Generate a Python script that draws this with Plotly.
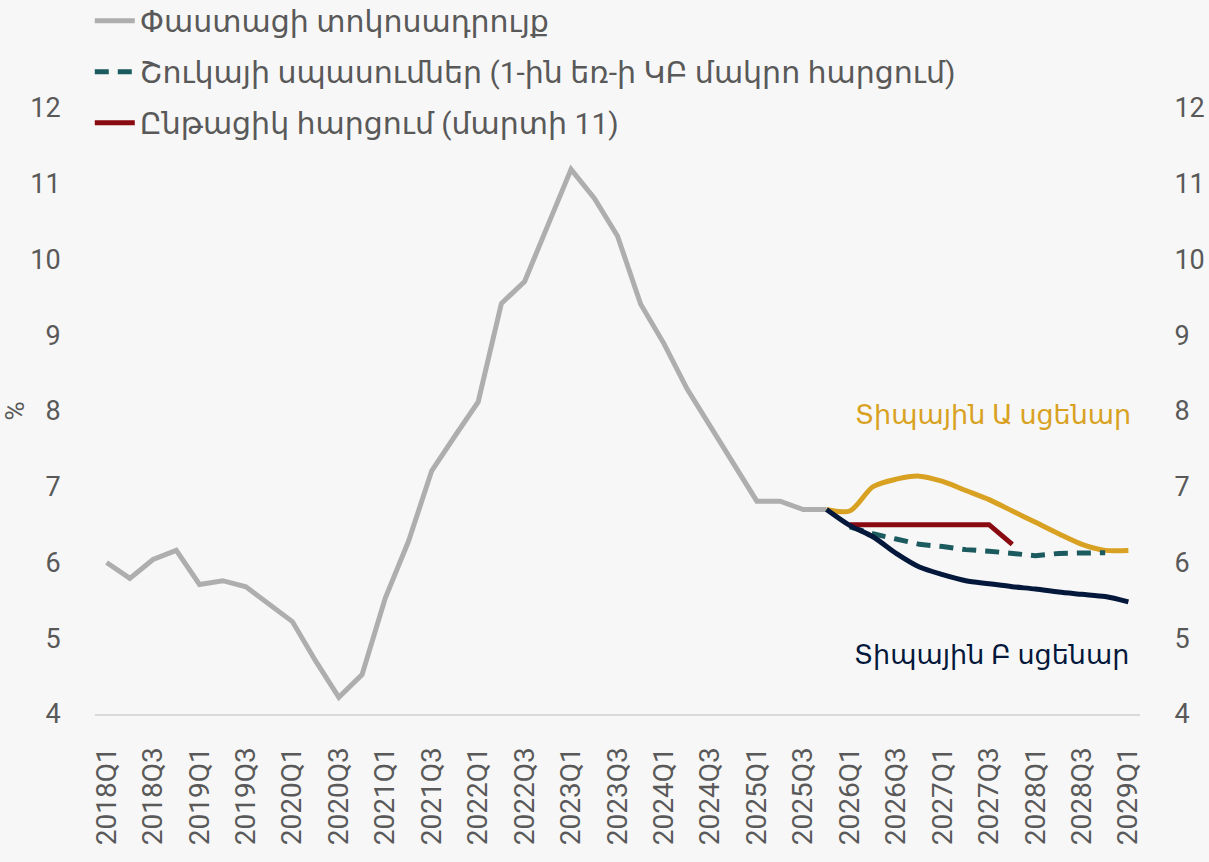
import plotly.graph_objects as go

QUARTERS = [
    "2018Q1", "2018Q2", "2018Q3", "2018Q4", "2019Q1", "2019Q2", "2019Q3", "2019Q4",
    "2020Q1", "2020Q2", "2020Q3", "2020Q4", "2021Q1", "2021Q2", "2021Q3", "2021Q4",
    "2022Q1", "2022Q2", "2022Q3", "2022Q4", "2023Q1", "2023Q2", "2023Q3", "2023Q4",
    "2024Q1", "2024Q2", "2024Q3", "2024Q4", "2025Q1", "2025Q2", "2025Q3", "2025Q4",
    "2026Q1", "2026Q2", "2026Q3", "2026Q4", "2027Q1", "2027Q2", "2027Q3", "2027Q4",
    "2028Q1", "2028Q2", "2028Q3", "2028Q4", "2029Q1",
]
TICK_LABELS = QUARTERS[::2]

# Փաստացի տոկոսադրույք, 2018Q1-2025Q4
ACTUAL = [6.00, 5.79, 6.04, 6.16, 5.71, 5.76, 5.68, 5.44,
          5.22, 4.70, 4.22, 4.52, 5.53, 6.28, 7.21, 7.67,
          8.12, 9.42, 9.71, 10.45, 11.19, 10.81, 10.31, 9.41,
          8.89, 8.29, 7.79, 7.30, 6.81, 6.81, 6.70, 6.70]

# Scenarios, 2025Q4-2029Q1
SCENARIO_A = [6.70, 6.68, 7.00, 7.10, 7.14, 7.07, 6.95, 6.83, 6.68, 6.53, 6.38, 6.24, 6.16, 6.16]
SCENARIO_B = [6.70, 6.49, 6.34, 6.12, 5.94, 5.84, 5.76, 5.72, 5.68, 5.65, 5.61, 5.58, 5.55, 5.48]

# Շուկայի սպասումներ, 2026Q1-2028Q4
EXPECTATIONS = [6.47, 6.38, 6.31, 6.24, 6.21, 6.17, 6.15, 6.12, 6.09, 6.12, 6.13, 6.13]

# Ընթացիկ հարցում (մարտի 11), 2026Q1-2027Q4
PREVIOUS = [6.50, 6.50, 6.50, 6.50, 6.50, 6.50, 6.50, 6.24]

GRAY = "#AEAEAE"
GOLD = "#D9A122"
TEAL = "#1B5A5E"
RED = "#8A0A12"
NAVY = "#04183B"
TEXT = "#595959"
BG = "#F7F7F7"
FONT = "Roboto, Noto Sans, DejaVu Sans, sans-serif"

fig = go.Figure()

fig.add_trace(go.Scatter(
    x=QUARTERS[:32], y=ACTUAL, mode="lines",
    line=dict(color=GRAY, width=5),
    name="Փաստացի տոկոսադրույք", legendgroup="a",
))
fig.add_trace(go.Scatter(
    x=QUARTERS[31:], y=SCENARIO_A, mode="lines",
    line=dict(color=GOLD, width=5, shape="spline", smoothing=0.8),
    showlegend=False,
))
fig.add_trace(go.Scatter(
    x=QUARTERS[32:44], y=EXPECTATIONS, mode="lines",
    line=dict(color=TEAL, width=5, dash="14px,9px"),
    name="Շուկայի սպասումներ (1-ին եռ-ի ԿԲ մակրո հարցում)", legendgroup="b",
))
fig.add_trace(go.Scatter(
    x=QUARTERS[32:40], y=PREVIOUS, mode="lines",
    line=dict(color=RED, width=5),
    name="Ընթացիկ հարցում (մարտի 11)", legendgroup="c",
))
fig.add_trace(go.Scatter(
    x=QUARTERS[31:], y=SCENARIO_B, mode="lines",
    line=dict(color=NAVY, width=5, shape="spline", smoothing=0.8),
    showlegend=False,
))
# invisible trace on the right axis so the mirrored tick labels show
fig.add_trace(go.Scatter(
    x=QUARTERS[:1], y=ACTUAL[:1], yaxis="y2", mode="lines",
    line=dict(width=0), showlegend=False, hoverinfo="skip",
))

fig.add_annotation(
    text="Տիպային Ա սցենար", xref="paper", yref="y", x=0.993, y=7.95,
    xanchor="right", yanchor="middle", showarrow=False,
    font=dict(family=FONT, size=27, color=GOLD),
)
fig.add_annotation(
    text="Տիպային Բ սցենար", xref="paper", yref="y", x=0.991, y=4.78,
    xanchor="right", yanchor="middle", showarrow=False,
    font=dict(family=FONT, size=27, color=NAVY),
)

fig.update_layout(
    width=1209, height=862,
    margin=dict(l=95, r=69, t=108, b=148, autoexpand=False),
    paper_bgcolor=BG, plot_bgcolor=BG,
    font=dict(family=FONT, color=TEXT),
    showlegend=True,
    legend=dict(
        x=-0.005, y=1.187, xanchor="left", yanchor="top",
        orientation="v", bgcolor="rgba(0,0,0,0)",
        font=dict(family=FONT, size=30, color=TEXT),
        itemwidth=40, tracegroupgap=9,
    ),
    xaxis=dict(
        type="category", categoryorder="array", categoryarray=QUARTERS,
        range=[-0.5, len(QUARTERS) - 0.5],
        tickmode="array", tickvals=TICK_LABELS, ticktext=TICK_LABELS,
        tickangle=-90, tickfont=dict(size=28, color=TEXT),
        showgrid=False, zeroline=False,
        showline=True, linecolor="#D9D9D9", linewidth=2,
        ticks="outside", ticklen=20, tickcolor="rgba(0,0,0,0)",
    ),
    yaxis=dict(
        range=[4, 12], dtick=1, showgrid=False, zeroline=False,
        tickfont=dict(size=27, color=TEXT),
        ticks="outside", ticklen=28, tickcolor="rgba(0,0,0,0)",
        title=dict(text="%", font=dict(size=26, color=TEXT), standoff=0),
    ),
    yaxis2=dict(
        range=[4, 12], dtick=1, overlaying="y", side="right",
        showgrid=False, zeroline=False,
        tickfont=dict(size=27, color=TEXT),
        ticks="outside", ticklen=28, tickcolor="rgba(0,0,0,0)",
    ),
)

fig.write_html(
    "out.html",
    config={"displayModeBar": False},
    post_script="document.body.style.margin='0px';",
)
